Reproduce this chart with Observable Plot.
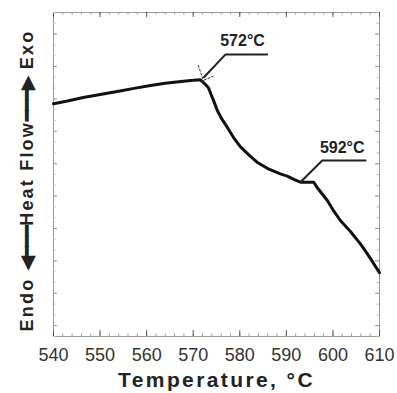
<!DOCTYPE html>
<html>
<head>
<meta charset="utf-8">
<script src="https://cdn.jsdelivr.net/npm/d3@7"></script>
<script src="https://cdn.jsdelivr.net/npm/@observablehq/plot@0.6"></script>
<style>
  html, body { margin: 0; padding: 0; background: #fff; }
  #chart svg { display: block; }
</style>
</head>
<body>
<div id="chart"></div>
<script>
// DSC heating trace: temperature (°C) vs heat flow (arbitrary units, exo up)
const temperature = [540, 543, 546.4, 550, 553.7, 557, 560.8, 564, 567.9, 570, 571.5,
  572.6, 573.3, 573.8, 574.5, 575.2, 576.2, 577.3, 578.7, 580.2, 582, 583.7, 586,
  588.7, 590.2, 591.6, 593.0, 595.9, 596.6, 598.8, 600.2, 601.6, 603.8, 605.9, 607.0,
  608.1, 610];
const heatFlow = [21.55, 21.8, 22.13, 22.4, 22.69, 22.95, 23.24, 23.45, 23.64, 23.72, 23.78,
  23.35, 23.0, 22.45, 21.7, 20.9, 20.1, 19.38, 18.4, 17.53, 16.8, 16.14, 15.55,
  15.06, 14.85, 14.55, 14.29, 14.29, 13.8, 12.59, 11.6, 10.74, 9.7, 8.58, 7.9,
  7.19, 5.9];

// Onset annotations
const onsetLabels = ["572°C", "592°C"];
const onsetLabelT = [575.8, 597.2];
const onsetLabelV = [26.9, 17.0];
// Leader lines: point on curve -> elbow -> end of underline
const leaderId = ["a", "a", "a", "b", "b", "b"];
const leaderT = [572.3, 576.9, 585.9, 593.0, 597.7, 607.0];
const leaderV = [24.0, 26.1, 26.1, 14.29, 16.3, 16.3];
// Tangent construction lines at the first onset
const tangentId = ["t1", "t1", "t2", "t2"];
const tangentT = [571.1, 572.4, 571.6, 574.3];
const tangentV = [25.1, 23.4, 23.6, 24.1];

// Axis titles; the heat-flow title is split into words and arrows
const xTitle = "Temperature, °C";
const yTitleParts = ["Endo ", "◀━━━", "Heat Flow", "━━━▶", " Exo"];

const xTicks = d3.range(540, 611, 10);
const xMinor = d3.range(540, 611, 2);
const yMinor = d3.range(0, 31, 1);
const yMajor = d3.range(1, 31, 3);

const trace = temperature.map((t, i) => ({t, v: heatFlow[i]}));
const leaders = leaderT.map((t, i) => ({t, v: leaderV[i], id: leaderId[i]}));
const tangents = tangentT.map((t, i) => ({t, v: tangentV[i], id: tangentId[i]}));
const onsets = onsetLabels.map((s, i) => ({s, t: onsetLabelT[i], v: onsetLabelV[i]}));

const W = 397, H = 393;
const mL = 53, mR = 18, mT = 12, mB = 57;
const pw = W - mL - mR, ph = H - mT - mB;
const grey = "#999";

const chart = Plot.plot({
  width: W,
  height: H,
  marginLeft: mL,
  marginRight: mR,
  marginTop: mT,
  marginBottom: mB,
  style: {fontFamily: "'Liberation Sans', Arial, sans-serif", background: "#fff"},
  x: {domain: [540, 610], axis: null},
  y: {domain: [0, 30], axis: null},
  marks: [
    Plot.frame({stroke: grey}),
    // inward ticks, bottom and top
    Plot.ruleX(xMinor, {x: d => d, stroke: grey, insetTop: ph - 2.5}),
    Plot.ruleX(xMinor, {x: d => d, stroke: grey, insetBottom: ph - 2.5}),
    Plot.ruleX(xTicks, {x: d => d, stroke: "#555", insetTop: ph - 6}),
    Plot.ruleX(xTicks, {x: d => d, stroke: "#555", insetBottom: ph - 5}),
    // inward ticks, left and right
    Plot.ruleY(yMinor, {y: d => d, stroke: "#bbb", insetRight: pw - 2.5}),
    Plot.ruleY(yMinor, {y: d => d, stroke: "#bbb", insetLeft: pw - 2.5}),
    Plot.ruleY(yMajor, {y: d => d, stroke: grey, insetRight: pw - 4}),
    Plot.ruleY(yMajor, {y: d => d, stroke: grey, insetLeft: pw - 4}),
    Plot.axisX(xTicks, {tickSize: 0, tickPadding: 12, fontSize: 18, fill: "#333", label: null}),
    Plot.text([xTitle], {
      frameAnchor: "bottom", dy: 44, fontSize: 21, fontWeight: "bold",
      fill: "#222", lineAnchor: "middle", className: "xlab"
    }),
    Plot.text([yTitleParts.join("")], {
      frameAnchor: "left", dx: -26, dy: 6, rotate: -90, fontSize: 18, fontWeight: "bold",
      fill: "#222", lineAnchor: "middle", textAnchor: "middle", className: "ylab"
    }),
    // the DSC trace
    Plot.line(trace, {x: "t", y: "v", stroke: "#111", strokeWidth: 3, strokeLinejoin: "miter"}),
    Plot.line(tangents, {x: "t", y: "v", z: "id", stroke: "#333", strokeWidth: 1, strokeDasharray: "2,2"}),
    Plot.line(leaders, {x: "t", y: "v", z: "id", stroke: "#222", strokeWidth: 2}),
    Plot.text(onsets, {
      x: "t", y: "v", text: "s", textAnchor: "start", fontSize: 16, fontWeight: "bold",
      fill: "#222", lineAnchor: "bottom"
    })
  ]
});

document.getElementById("chart").appendChild(chart);
// heat-flow title: words slightly spaced, arrow shafts drawn solid
const ylab = d3.select(chart).select(".ylab text");
ylab.text(null);
yTitleParts.forEach((part, i) => {
  ylab.append("tspan")
    .attr("letter-spacing", i % 2 ? "-0.6px" : "2.2px")
    .text(part);
});
// spaced lettering on the temperature label
d3.select(chart).select(".xlab text").attr("letter-spacing", "2.4px");
</script>
</body>
</html>
